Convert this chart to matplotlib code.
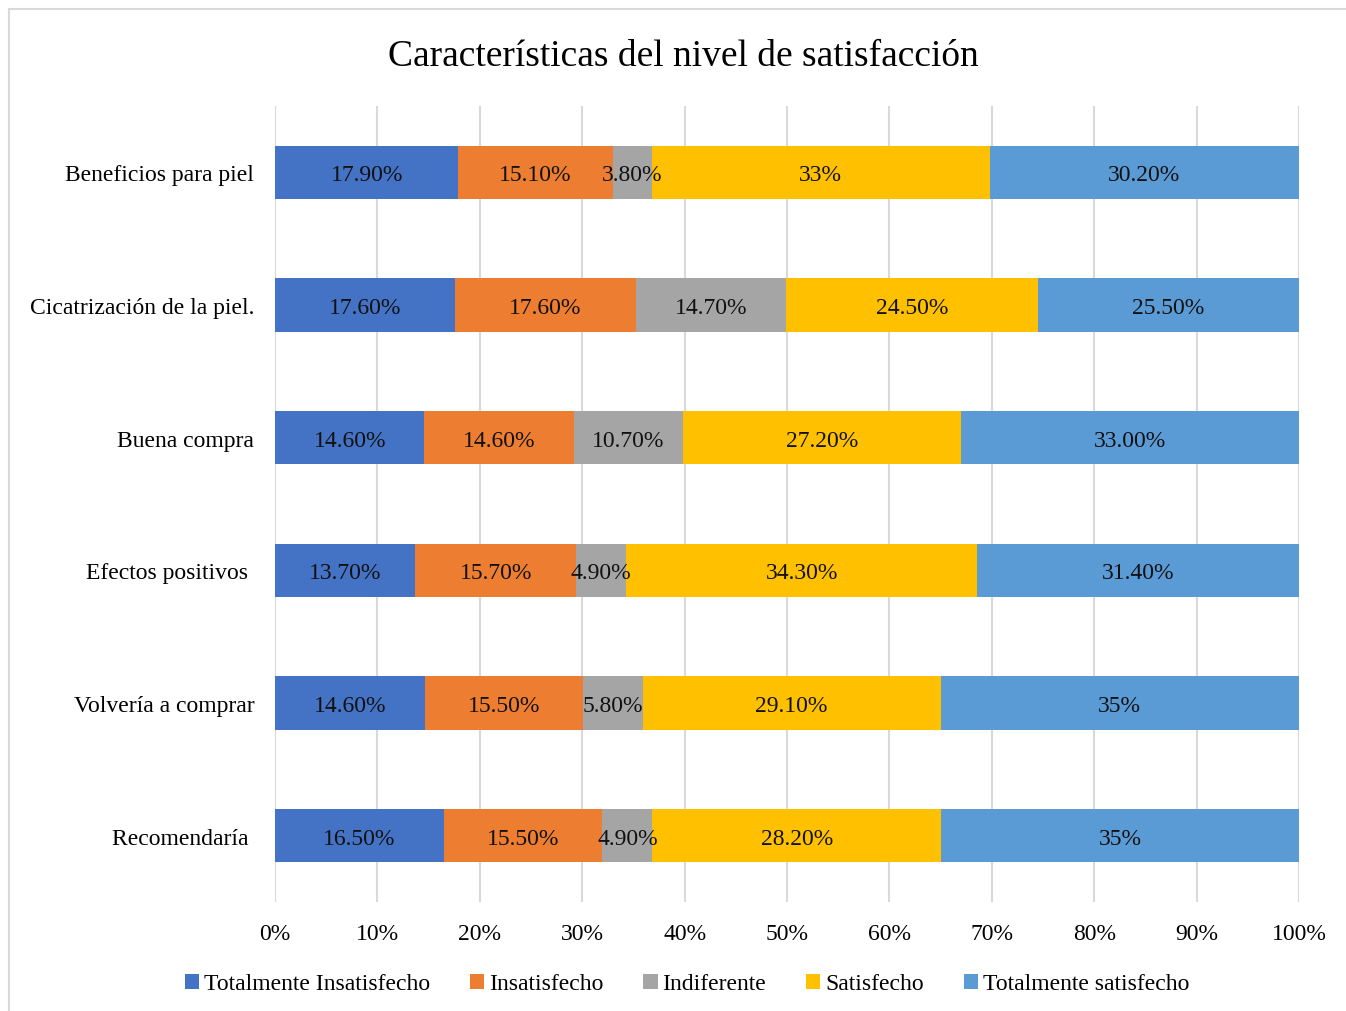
import matplotlib
matplotlib.use("Agg")
import matplotlib.pyplot as plt
from matplotlib.patches import Rectangle
import numpy as np

categories = ["Beneficios para piel", "Cicatrización de la piel.", "Buena compra",
              "Efectos positivos ", "Volvería a comprar", "Recomendaría "]
series = ["Totalmente Insatisfecho", "Insatisfecho", "Indiferente",
          "Satisfecho", "Totalmente satisfecho"]
tot_insat = [17.9, 17.6, 14.6, 13.7, 14.6, 16.5]
insat = [15.1, 17.6, 14.6, 15.7, 15.5, 15.5]
indif = [3.8, 14.7, 10.7, 4.9, 5.8, 4.9]
satis = [33.0, 24.5, 27.2, 34.3, 29.1, 28.2]
tot_satis = [30.2, 25.5, 33.0, 31.4, 35.0, 35.0]
labels_tot_insat = ["17.90%", "17.60%", "14.60%", "13.70%", "14.60%", "16.50%"]
labels_insat = ["15.10%", "17.60%", "14.60%", "15.70%", "15.50%", "15.50%"]
labels_indif = ["3.80%", "14.70%", "10.70%", "4.90%", "5.80%", "4.90%"]
labels_satis = ["33%", "24.50%", "27.20%", "34.30%", "29.10%", "28.20%"]
labels_tot_satis = ["30.20%", "25.50%", "33.00%", "31.40%", "35%", "35%"]
xticks = [0, 10, 20, 30, 40, 50, 60, 70, 80, 90, 100]
xtick_labels = [f"{t}%" for t in xticks]
colors = ["#4472C4", "#ED7D31", "#A5A5A5", "#FFC000", "#5B9BD5"]

plt.rcParams['font.family'] = ['Liberation Serif', 'DejaVu Serif']

data = np.array([tot_insat, insat, indif, satis, tot_satis])
labels = [labels_tot_insat, labels_insat, labels_indif, labels_satis, labels_tot_satis]
totals = data.sum(axis=0)
pct = data / totals * 100

fig = plt.figure(figsize=(13.46, 10.12), dpi=100)
ax = fig.add_axes([275/1346, 1 - 903/1012, 1024/1346, 796/1012])

# chart border
fig.patches.append(Rectangle((9/1346, -0.1), 1.2, 1 - 10/1012 + 0.1, transform=fig.transFigure,
                             fill=False, edgecolor="#D9D9D9", linewidth=1.5))

y = np.arange(len(categories))
left = np.zeros(len(categories))
for i, s in enumerate(series):
    ax.barh(y, pct[i], left=left, height=0.4, color=colors[i], label=s, zorder=3)
    for j in range(len(categories)):
        ax.text(left[j] + pct[i][j] / 2, y[j], labels[i][j], ha="center", va="center_baseline",
                fontsize=17, color="#111111", zorder=4)
    left += pct[i]

ax.set_xlim(0, 100)
ax.set_ylim(len(categories) - 0.5, -0.5)
ax.set_xticks(xticks)
ax.set_xticklabels(xtick_labels, fontsize=17)
ax.set_yticks(y)
ax.set_yticklabels(categories, fontsize=17, va="center_baseline")
ax.tick_params(axis="y", length=0, pad=15)
ax.tick_params(axis="x", length=0, pad=15)
ax.grid(axis="x", color="#D9D9D9", linewidth=1.5, zorder=0)
for sp in ax.spines.values():
    sp.set_visible(False)

fig.text(683/1346, 1 - 53/1012, "Características del nivel de satisfacción", fontsize=27,
         ha="center", va="center_baseline")

fig.legend(loc="center", bbox_to_anchor=(687/1346, 1 - 985/1012), ncol=5, frameon=False,
           fontsize=17, handlelength=0.6, handleheight=0.6, handletextpad=0.2, columnspacing=1.7)

fig.savefig("out.png", dpi=100)
